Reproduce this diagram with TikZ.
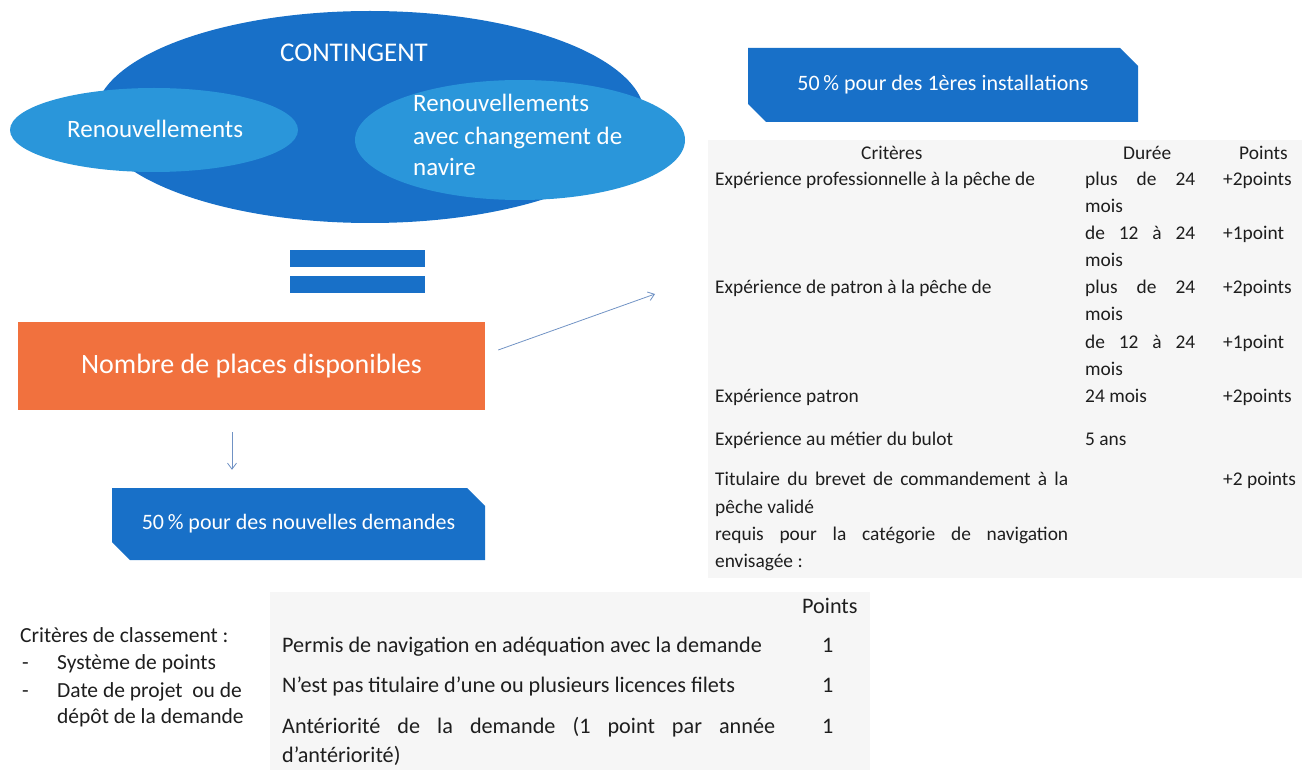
\documentclass[tikz,border=0pt]{standalone}
\usepackage{fontspec}
\setmainfont{Carlito}
\usetikzlibrary{shapes.misc,arrows.meta}

\definecolor{bleu}{RGB}{24,112,200}
\definecolor{bleuclair}{RGB}{42,150,218}
\definecolor{orangeplaces}{RGB}{241,113,62}
\definecolor{fleche}{RGB}{112,146,196}
\definecolor{fond}{RGB}{246,246,246}
\definecolor{encre}{RGB}{30,30,30}

\tikzset{
  boite/.style={chamfered rectangle, chamfered rectangle corners={north east,south west},
    chamfered rectangle sep=9pt, fill=bleu, text=white, inner sep=0pt,
    font=\fontsize{22}{25}\selectfont},
  cellule/.style={anchor=base west, inner sep=0pt, text=encre, font=\fontsize{19.4}{22}\selectfont},
  grande/.style={cellule, font=\fontsize{22.2}{25}\selectfont},
  liste/.style={cellule, font=\fontsize{21.5}{25}\selectfont},
  bulle/.style={anchor=base west, inner sep=0pt, text=white, font=\fontsize{25}{28}\selectfont},
  lien/.style={-{Straight Barb[length=6pt,width=9pt]}, fleche, line width=0.8pt}
}

\begin{document}
\begin{tikzpicture}[x=1pt,y=-1pt]
\useasboundingbox (0,0) rectangle (1310,770);

% Contingent
\fill[bleu] (370,117) ellipse[x radius=275, y radius=106];
\fill[bleuclair] (154,130) ellipse[x radius=144, y radius=42];
\fill[bleuclair] (520,140) ellipse[x radius=165, y radius=60];
\node[bulle, font=\fontsize{27}{30}\selectfont] (contingent) at (280,62) {CONTINGENT};
\node[bulle] (renouv) at (67,138) {Renouvellements};
\node[bulle] (renouvnav) at (413,112) {Renouvellements};
\node[bulle] at (413,145) {avec changement de};
\node[bulle] at (413,176) {navire};

% Egal
\fill[bleu] (290,250) rectangle (425,267);
\fill[bleu] (290,276) rectangle (425,293);

% Places
\node[fill=orangeplaces, text=white, minimum width=467pt, minimum height=88pt,
  font=\fontsize{28}{32}\selectfont] (places) at (251.5,366) {Nombre de places disponibles};
\node[boite, minimum width=373pt, minimum height=72pt] (nouvelles) at (298.5,524)
  {50\,\% pour des nouvelles demandes};
\node[boite, minimum width=390pt, minimum height=74pt] (installations) at (943,85)
  {50\,\% pour des 1ères installations};

\coordinate (tableau) at (655,294);
\draw[lien] ([xshift=-19.5pt,yshift=-22pt]places.south) -- ([xshift=-66.5pt,yshift=18pt]nouvelles.north);
\draw[lien] ([xshift=13pt,yshift=16pt]places.east) -- (tableau);

% Tableau 1eres installations
\fill[fond] (708,140) rectangle (1302,578);
\node[cellule] at (861,160) {Critères};
\node[cellule] at (1123,160) {Durée};
\node[cellule] at (1239,160) {Points};
\node[cellule] at (715,186) {Expérience professionnelle à la pêche de};
\node[cellule] at (1085,186) {\makebox[110pt][s]{plus de 24}};
\node[cellule] at (1223,186) {+2points};
\node[cellule] at (1085,213) {mois};
\node[cellule] at (1085,240) {\makebox[110pt][s]{de 12 à 24}};
\node[cellule] at (1223,240) {+1point};
\node[cellule] at (1085,267) {mois};
\node[cellule] at (715,294) {Expérience de patron à la pêche de};
\node[cellule] at (1085,294) {\makebox[110pt][s]{plus de 24}};
\node[cellule] at (1223,294) {+2points};
\node[cellule] at (1085,320) {mois};
\node[cellule] at (1085,348) {\makebox[110pt][s]{de 12 à 24}};
\node[cellule] at (1223,348) {+1point};
\node[cellule] at (1085,375) {mois};
\node[cellule] at (715,402) {Expérience patron};
\node[cellule] at (1085,402) {24 mois};
\node[cellule] at (1223,402) {+2points};
\node[cellule] at (715,445) {Expérience au métier du bulot};
\node[cellule] at (1085,445) {5 ans};
\node[cellule] at (715,485) {\makebox[353pt][s]{Titulaire du brevet de commandement à la}};
\node[cellule] at (1223,485) {+2 points};
\node[cellule] at (715,513) {pêche validé};
\node[cellule] at (715,540) {\makebox[353pt][s]{requis pour la catégorie de navigation}};
\node[cellule] at (715,567) {envisagée :};

% Criteres de classement
\node[liste] (criteres) at (20,642) {Critères de classement :};
\node[liste] at (22,669) {-};
\node[liste] at (57,669) {Système de points};
\node[liste] at (22,697) {-};
\node[liste] at (57,697) {Date de projet~ ou de};
\node[liste] at (57,723) {dépôt de la demande};

% Tableau nouvelles demandes
\fill[fond] (270,592) rectangle (870,770);
\node[grande] at (802,613) {Points};
\node[grande] at (282,652) {Permis de navigation en adéquation avec la demande};
\node[grande] at (822,652) {1};
\node[grande] at (282,692) {N’est pas titulaire d’une ou plusieurs licences filets};
\node[grande] at (822,692) {1};
\node[grande] at (282,733) {\makebox[493pt][s]{Antériorité de la demande (1 point par année}};
\node[grande] at (822,733) {1};
\node[grande] at (282,762) {d’antériorité)};
\end{tikzpicture}
\end{document}
